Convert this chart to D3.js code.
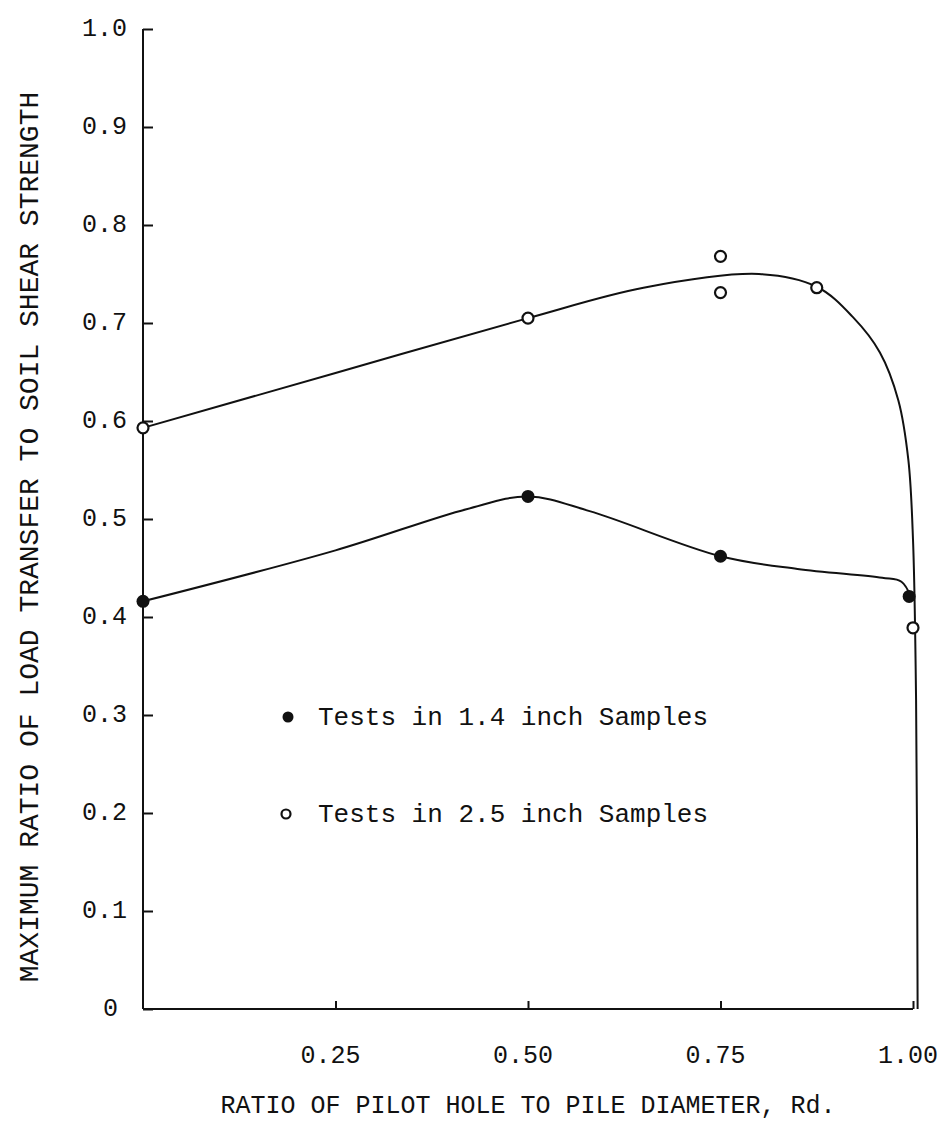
<!DOCTYPE html>
<html>
<head>
<meta charset="utf-8">
<script src="https://cdn.jsdelivr.net/npm/d3@7"></script>
<style>
  body { margin: 0; background: #fff; }
  text { font-family: "Liberation Mono", "DejaVu Sans Mono", monospace; fill: #111; }
</style>
</head>
<body>
<script>
// measured points
let small = [[0, 0.416], [0.5, 0.523], [0.75, 0.462], [0.995, 0.421]];
let large = [[0, 0.593], [0.5, 0.705], [0.75, 0.768], [0.75, 0.731], [0.875, 0.736], [1.0, 0.389]];

// hand-fitted curves
let smallCurve = [[0, 0.416], [0.25, 0.468], [0.42, 0.51], [0.5, 0.523], [0.58, 0.508], [0.75, 0.462],
                  [0.85, 0.449], [0.96, 0.44], [0.985, 0.436], [0.997, 0.421]];
let largeCurve = [[0, 0.593], [0.25, 0.649], [0.5, 0.705], [0.65, 0.736], [0.8, 0.75], [0.875, 0.737],
                  [0.922, 0.706], [0.957, 0.67], [0.981, 0.621], [0.994, 0.56], [1.0, 0.479],
                  [1.004, 0.315], [1.006, 0]];

let xTicks = [0.25, 0.5, 0.75, 1.0];
let xTickLabels = ["0.25", "0.50", "0.75", "1.00"];
let yTicks = [0, 0.1, 0.2, 0.3, 0.4, 0.5, 0.6, 0.7, 0.8, 0.9, 1.0];

let x = d3.scaleLinear().domain([0, 1]).range([143, 913]);
let y = d3.scaleLinear().domain([0, 1]).range([1009, 29]);

let svg = d3.select("body").append("svg").attr("width", 945).attr("height", 1135);

// axes
let yAxis = d3.axisRight(y).tickValues(yTicks).tickSize(10).tickFormat("");
svg.append("g").attr("transform", "translate(143,0)").call(yAxis)
  .call(g => g.select(".domain").remove())
  .selectAll("line").attr("stroke", "#111").attr("stroke-width", 2);

let xAxis = d3.axisTop(x).tickValues(xTicks).tickSize(8).tickFormat("");
svg.append("g").attr("transform", "translate(0,1009)").call(xAxis)
  .call(g => g.select(".domain").remove())
  .selectAll("line").attr("stroke", "#111").attr("stroke-width", 2);

svg.append("line").attr("x1", x(0)).attr("x2", x(0)).attr("y1", y(1)).attr("y2", y(0))
  .attr("stroke", "#111").attr("stroke-width", 2);
svg.append("line").attr("x1", x(0)).attr("x2", x(1)).attr("y1", y(0)).attr("y2", y(0))
  .attr("stroke", "#111").attr("stroke-width", 2);

// tick labels
svg.selectAll("text.ylab")
  .data(yTicks)
  .enter().append("text")
  .attr("class", "ylab")
  .attr("x", d => d === 0 ? 118 : 127)
  .attr("y", d => y(d))
  .attr("font-size", 25)
  .attr("text-anchor", "end")
  .attr("dominant-baseline", "middle")
  .text(d => d === 0 ? "0" : d.toFixed(1));

svg.selectAll("text.xlab")
  .data(xTicks)
  .enter().append("text")
  .attr("class", "xlab")
  .attr("x", d => x(d) - 5)
  .attr("y", 1063)
  .attr("font-size", 25)
  .attr("text-anchor", "middle")
  .text((d, i) => xTickLabels[i]);

// axis titles
svg.append("text")
  .attr("x", 528).attr("y", 1113)
  .attr("font-size", 25)
  .attr("text-anchor", "middle")
  .text("RATIO OF PILOT HOLE TO PILE DIAMETER, Rd.");

svg.append("text")
  .attr("transform", "translate(38,537) rotate(-90)")
  .attr("font-size", 28)
  .attr("text-anchor", "middle")
  .text("MAXIMUM RATIO OF LOAD TRANSFER TO SOIL SHEAR STRENGTH");

// curves
let line = d3.line().x(d => x(d[0])).y(d => y(d[1])).curve(d3.curveCatmullRom.alpha(0.5));

svg.append("path").datum(largeCurve).attr("d", line)
  .attr("fill", "none").attr("stroke", "#111").attr("stroke-width", 2);
svg.append("path").datum(smallCurve).attr("d", line)
  .attr("fill", "none").attr("stroke", "#111").attr("stroke-width", 2);

// points
svg.selectAll("circle.small")
  .data(small)
  .enter().append("circle")
  .attr("class", "small")
  .attr("cx", d => x(d[0]))
  .attr("cy", d => y(d[1]))
  .attr("r", 6.5)
  .attr("fill", "#111");

svg.selectAll("circle.large")
  .data(large)
  .enter().append("circle")
  .attr("class", "large")
  .attr("cx", d => x(d[0]))
  .attr("cy", d => y(d[1]))
  .attr("r", 5.5)
  .attr("fill", "#fff")
  .attr("stroke", "#111")
  .attr("stroke-width", 2.2);

// legend
svg.append("circle").attr("cx", 288).attr("cy", 717).attr("r", 5.5).attr("fill", "#111");
svg.append("text").attr("x", 318).attr("y", 725).attr("font-size", 26).text("Tests in 1.4 inch Samples");

svg.append("circle").attr("cx", 286).attr("cy", 814).attr("r", 4.5)
  .attr("fill", "#fff").attr("stroke", "#111").attr("stroke-width", 2.2);
svg.append("text").attr("x", 318).attr("y", 822).attr("font-size", 26).text("Tests in 2.5 inch Samples");
</script>
</body>
</html>
